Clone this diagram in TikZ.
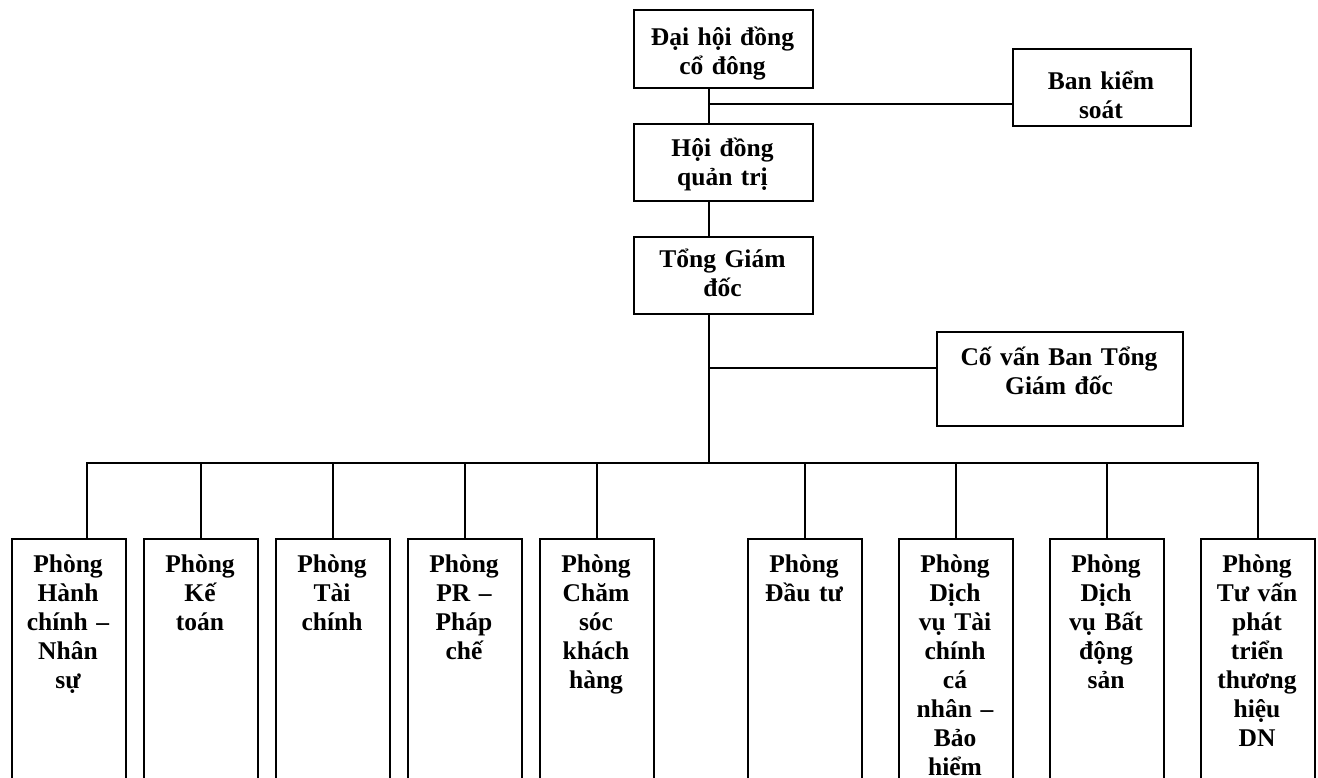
\documentclass[tikz,border=0pt]{standalone}
\usepackage{fontspec}
\setmainfont{Liberation Serif}
\begin{document}
\begin{tikzpicture}[x=1pt,y=-1pt,
  box/.style={draw, line width=1.8pt, rectangle, inner sep=0pt, anchor=north west},
  txt/.style={font=\bfseries\fontsize{25.5}{29}\selectfont, align=center, text width=260pt, anchor=base, inner sep=0pt},
  conn/.style={line width=1.8pt}]
\useasboundingbox (0,0) rectangle (1318,778);

% top chain
\node[box, minimum width=179pt, minimum height=78pt] (dh) at (633,9) {};
\node[txt] (dht) at (722.5,46) {Đại hội đồng\\cổ đông};
\node[box, minimum width=178pt, minimum height=77pt] (bk) at (1012,48) {};
\node[txt] (bkt) at (1101,90) {Ban kiểm\\soát};
\node[box, minimum width=179pt, minimum height=77pt] (hd) at (633,123) {};
\node[txt] (hdt) at (722.5,157) {Hội đồng\\quản trị};
\node[box, minimum width=179pt, minimum height=77pt] (tg) at (633,236) {};
\node[txt] (tgt) at (722.5,268) {Tổng Giám\\đốc};
\node[box, minimum width=246pt, minimum height=94pt] (cv) at (936,331) {};
\node[txt] (cvt) at (1059,365) {Cố vấn Ban Tổng\\Giám đốc};

% departments
\foreach \n/\lx/\t in {
  1/11/{Phòng\\Hành\\chính –\\Nhân\\sự},
  2/143/{Phòng\\Kế\\toán},
  3/275/{Phòng\\Tài\\chính},
  4/407/{Phòng\\PR –\\Pháp\\chế},
  5/539/{Phòng\\Chăm\\sóc\\khách\\hàng},
  6/747/{Phòng\\Đầu tư},
  7/898/{Phòng\\Dịch\\vụ Tài\\chính\\cá\\nhân –\\Bảo\\hiểm},
  8/1049/{Phòng\\Dịch\\vụ Bất\\động\\sản},
  9/1200/{Phòng\\Tư vấn\\phát\\triển\\thương\\hiệu\\DN}}{
  \node[box, minimum width=114pt, minimum height=262pt] (d\n) at (\lx,538) {};
  \node[txt] (d\n t) at (\lx+57,572) {\t};
}

% connectors
\coordinate (tr) at (709,0);
\coordinate (j1) at (709,104);
\coordinate (j2) at (709,368);
\coordinate (bus) at (709,463);
\draw[conn] (dh.south -| tr) -- (hd.north -| tr);
\draw[conn] (j1) -- (j1 -| bk.west);
\draw[conn] (hd.south -| tr) -- (tg.north -| tr);
\draw[conn] (tg.south -| tr) -- (bus);
\draw[conn] (j2) -- (j2 -| cv.west);

\coordinate (k1) at (87,463);
\coordinate (k9) at (d9.north |- bus);
\draw[conn] (k1 |- d1.north) -- (k1) -- (k9) -- (d9.north);
\foreach \n in {2,...,8}{
  \draw[conn] (d\n.north |- bus) -- (d\n.north);
}
\end{tikzpicture}
\end{document}
